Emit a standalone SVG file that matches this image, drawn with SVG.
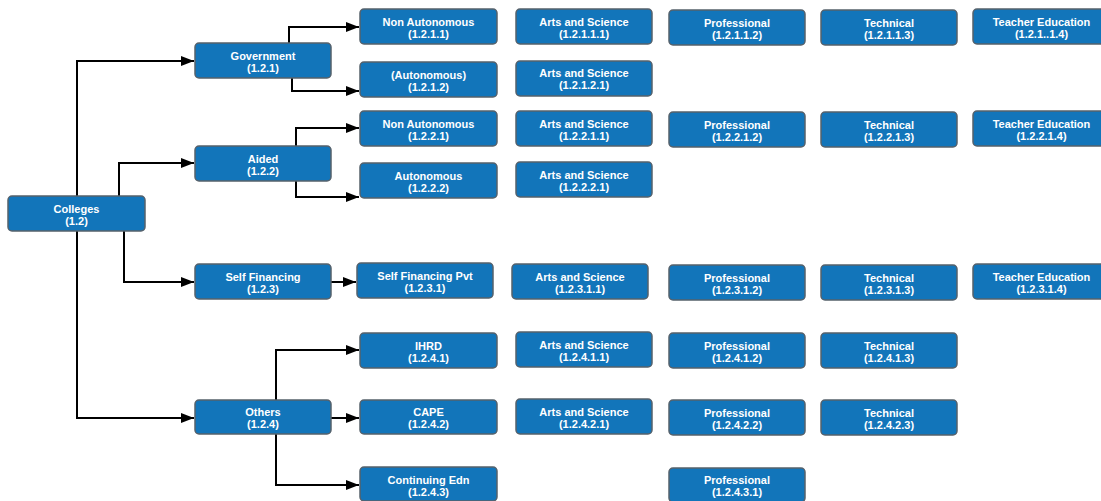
<svg xmlns="http://www.w3.org/2000/svg" width="1101" height="501" viewBox="0 0 1101 501">
<style>
.n rect{fill:#1275ba;stroke:#56616b;stroke-width:1.5;}
.n text{fill:#fff;font-family:"Liberation Sans",Arial,sans-serif;font-weight:bold;font-size:11px;text-anchor:middle;}
.c path{fill:none;stroke:#000;stroke-width:2;}
</style>
<defs>
<marker id="a" markerUnits="userSpaceOnUse" markerWidth="14" markerHeight="10" refX="13" refY="5" orient="auto">
<path d="M0,0 L13,5 L0,10 z" fill="#000"/>
</marker>
</defs>
<rect width="1101" height="501" fill="#fff"/>
<g class="c" marker-end="url(#a)">
<path d="M77,196 V61 H194" marker-end="url(#a)"/>
<path d="M119,196 V163 H194" marker-end="url(#a)"/>
<path d="M124,231 V282 H194" marker-end="url(#a)"/>
<path d="M77,231 V418 H194" marker-end="url(#a)"/>
<path d="M289,43 V27 H359" marker-end="url(#a)"/>
<path d="M292,78 V91 H359" marker-end="url(#a)"/>
<path d="M296,146 V128 H359" marker-end="url(#a)"/>
<path d="M296,181 V197 H359" marker-end="url(#a)"/>
<path d="M331,282 H356" marker-end="url(#a)"/>
<path d="M276,401 V350 H359" marker-end="url(#a)"/>
<path d="M331,418 H359" marker-end="url(#a)"/>
<path d="M276,434 V485 H359" marker-end="url(#a)"/>
</g>
<g id="n1_2" class="n"><rect x="8" y="196" width="137" height="35" rx="4"/><text x="76.5" y="213">Colleges</text><text x="76.5" y="225">(1.2)</text></g>
<g id="n1_2_1" class="n"><rect x="195" y="43" width="136" height="35" rx="4"/><text x="263" y="60">Government</text><text x="263" y="72">(1.2.1)</text></g>
<g id="n1_2_2" class="n"><rect x="195" y="146" width="136" height="35" rx="4"/><text x="263" y="163">Aided</text><text x="263" y="175">(1.2.2)</text></g>
<g id="n1_2_3" class="n"><rect x="195" y="264" width="136" height="35" rx="4"/><text x="263" y="281">Self Financing</text><text x="263" y="293">(1.2.3)</text></g>
<g id="n1_2_4" class="n"><rect x="195" y="400" width="136" height="34" rx="4"/><text x="263" y="416">Others</text><text x="263" y="428">(1.2.4)</text></g>

<g id="n1_2_1_1" class="n"><rect x="360" y="9" width="137" height="35" rx="4"/><text x="428.5" y="26">Non Autonomous</text><text x="428.5" y="38">(1.2.1.1)</text></g>
<g id="n1_2_1_2" class="n"><rect x="360" y="62" width="137" height="35" rx="4"/><text x="428.5" y="79">(Autonomous)</text><text x="428.5" y="91">(1.2.1.2)</text></g>
<g id="n1_2_2_1" class="n"><rect x="360" y="111" width="137" height="35" rx="4"/><text x="428.5" y="128">Non Autonomous</text><text x="428.5" y="140">(1.2.2.1)</text></g>
<g id="n1_2_2_2" class="n"><rect x="360" y="163" width="137" height="35" rx="4"/><text x="428.5" y="180">Autonomous</text><text x="428.5" y="192">(1.2.2.2)</text></g>
<g id="n1_2_3_1" class="n"><rect x="357" y="263" width="136" height="35" rx="4"/><text x="425" y="280">Self Financing Pvt</text><text x="425" y="292">(1.2.3.1)</text></g>
<g id="n1_2_4_1" class="n"><rect x="360" y="333" width="137" height="35" rx="4"/><text x="428.5" y="350">IHRD</text><text x="428.5" y="362">(1.2.4.1)</text></g>
<g id="n1_2_4_2" class="n"><rect x="360" y="400" width="137" height="34" rx="4"/><text x="428.5" y="416">CAPE</text><text x="428.5" y="428">(1.2.4.2)</text></g>
<g id="n1_2_4_3" class="n"><rect x="360" y="467" width="137" height="34" rx="4"/><text x="428.5" y="484">Continuing Edn</text><text x="428.5" y="496">(1.2.4.3)</text></g>

<g id="n1_2_1_1_1" class="n"><rect x="516" y="9" width="136" height="35" rx="4"/><text x="584" y="26">Arts and Science</text><text x="584" y="38">(1.2.1.1.1)</text></g>
<g id="n1_2_1_1_2" class="n"><rect x="669" y="10" width="136" height="35" rx="4"/><text x="737" y="27">Professional</text><text x="737" y="39">(1.2.1.1.2)</text></g>
<g id="n1_2_1_1_3" class="n"><rect x="821" y="10" width="136" height="35" rx="4"/><text x="889" y="27">Technical</text><text x="889" y="39">(1.2.1.1.3)</text></g>
<g id="n1_2_1_1_4" class="n"><rect x="973" y="9" width="137" height="35" rx="4"/><text x="1041.5" y="26">Teacher Education</text><text x="1041.5" y="38">(1.2.1..1.4)</text></g>

<g id="n1_2_1_2_1" class="n"><rect x="516" y="61" width="136" height="35" rx="4"/><text x="584" y="77">Arts and Science</text><text x="584" y="89">(1.2.1.2.1)</text></g>

<g id="n1_2_2_1_1" class="n"><rect x="516" y="111" width="136" height="35" rx="4"/><text x="584" y="128">Arts and Science</text><text x="584" y="140">(1.2.2.1.1)</text></g>
<g id="n1_2_2_1_2" class="n"><rect x="669" y="112" width="136" height="35" rx="4"/><text x="737" y="129">Professional</text><text x="737" y="141">(1.2.2.1.2)</text></g>
<g id="n1_2_2_1_3" class="n"><rect x="821" y="112" width="136" height="35" rx="4"/><text x="889" y="129">Technical</text><text x="889" y="141">(1.2.2.1.3)</text></g>
<g id="n1_2_2_1_4" class="n"><rect x="973" y="111" width="137" height="35" rx="4"/><text x="1041.5" y="128">Teacher Education</text><text x="1041.5" y="140">(1.2.2.1.4)</text></g>

<g id="n1_2_2_2_1" class="n"><rect x="516" y="162" width="136" height="35" rx="4"/><text x="584" y="179">Arts and Science</text><text x="584" y="191">(1.2.2.2.1)</text></g>

<g id="n1_2_3_1_1" class="n"><rect x="512" y="264" width="136" height="35" rx="4"/><text x="580" y="281">Arts and Science</text><text x="580" y="293">(1.2.3.1.1)</text></g>
<g id="n1_2_3_1_2" class="n"><rect x="669" y="265" width="136" height="35" rx="4"/><text x="737" y="282">Professional</text><text x="737" y="294">(1.2.3.1.2)</text></g>
<g id="n1_2_3_1_3" class="n"><rect x="821" y="265" width="136" height="35" rx="4"/><text x="889" y="282">Technical</text><text x="889" y="294">(1.2.3.1.3)</text></g>
<g id="n1_2_3_1_4" class="n"><rect x="973" y="264" width="137" height="35" rx="4"/><text x="1041.5" y="281">Teacher Education</text><text x="1041.5" y="293">(1.2.3.1.4)</text></g>

<g id="n1_2_4_1_1" class="n"><rect x="516" y="332" width="136" height="35" rx="4"/><text x="584" y="349">Arts and Science</text><text x="584" y="361">(1.2.4.1.1)</text></g>
<g id="n1_2_4_1_2" class="n"><rect x="669" y="333" width="136" height="35" rx="4"/><text x="737" y="350">Professional</text><text x="737" y="362">(1.2.4.1.2)</text></g>
<g id="n1_2_4_1_3" class="n"><rect x="821" y="333" width="136" height="35" rx="4"/><text x="889" y="350">Technical</text><text x="889" y="362">(1.2.4.1.3)</text></g>

<g id="n1_2_4_2_1" class="n"><rect x="516" y="399" width="136" height="35" rx="4"/><text x="584" y="416">Arts and Science</text><text x="584" y="428">(1.2.4.2.1)</text></g>
<g id="n1_2_4_2_2" class="n"><rect x="669" y="400" width="136" height="35" rx="4"/><text x="737" y="417">Professional</text><text x="737" y="429">(1.2.4.2.2)</text></g>
<g id="n1_2_4_2_3" class="n"><rect x="821" y="400" width="136" height="35" rx="4"/><text x="889" y="417">Technical</text><text x="889" y="429">(1.2.4.2.3)</text></g>

<g id="n1_2_4_3_1" class="n"><rect x="669" y="468" width="136" height="34" rx="4"/><text x="737" y="484">Professional</text><text x="737" y="496">(1.2.4.3.1)</text></g>
</svg>
